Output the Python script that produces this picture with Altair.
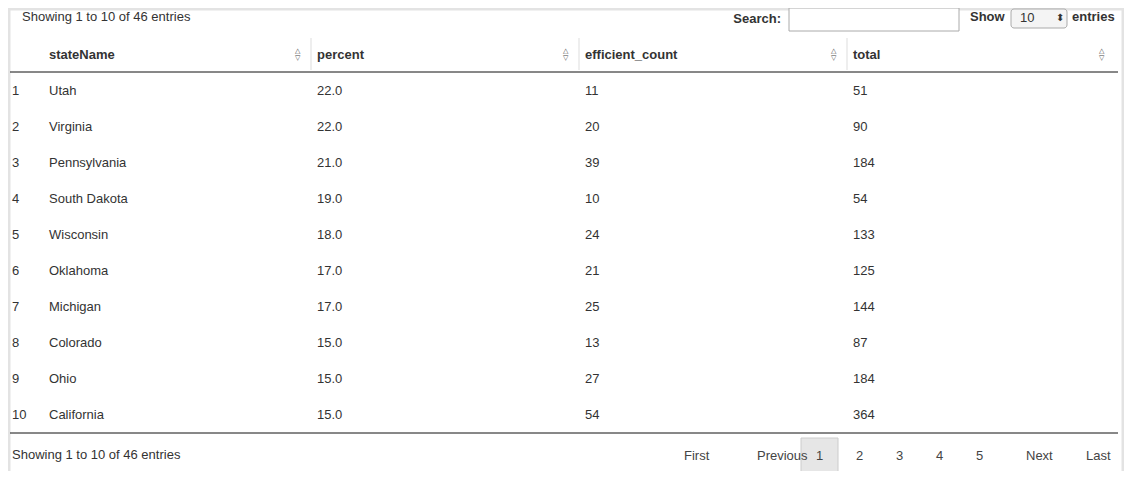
import altair as alt
import pandas as pd

columns = ["stateName", "percent", "efficient_count", "total"]
states = ["Utah", "Virginia", "Pennsylvania", "South Dakota", "Wisconsin",
          "Oklahoma", "Michigan", "Colorado", "Ohio", "California"]
percent = [22.0, 22.0, 21.0, 19.0, 18.0, 17.0, 17.0, 15.0, 15.0, 15.0]
efficient_count = [11, 20, 39, 10, 24, 21, 25, 13, 27, 54]
total = [51, 90, 184, 54, 133, 125, 144, 87, 184, 364]
pages = ["First", "Previous", "1", "2", "3", "4", "5", "Next", "Last"]
page_x = [676, 749, 808, 848, 888, 928, 968, 1018, 1078]

FONT = "Liberation Sans"
row_ids = [str(i) for i in range(1, 11)]
row_domain = ["h"] + row_ids
yscale = alt.Scale(type="point", domain=row_domain, range=[47, 407], padding=0)
xscale = alt.Scale(type="point", domain=columns, range=[41, 845], padding=0)

cells = []
for i in range(10):
    vals = [states[i], f"{percent[i]:.1f}", str(efficient_count[i]), str(total[i])]
    for c, v in zip(columns, vals):
        cells.append({"row": row_ids[i], "col": c, "val": v})
cells = pd.DataFrame(cells)
header = pd.DataFrame({"row": ["h"] * 4, "col": columns, "val": columns})
index = pd.DataFrame({"row": row_ids, "val": row_ids})

X = alt.X("col:N", scale=xscale, axis=None)
Y = alt.Y("row:N", scale=yscale, axis=None)

one = pd.DataFrame({"a": [0]})
frame = alt.Chart(one).mark_rect(
    fill="white", stroke="#e3e3e3", strokeWidth=3
).encode(x=alt.value(1), x2=alt.value(1115), y=alt.value(1), y2=alt.value(469))

body = alt.Chart(cells).mark_text(align="left", baseline="middle", font=FONT,
                                  fontSize=13, color="#333").encode(x=X, y=Y, text="val:N")
head = alt.Chart(header).mark_text(align="left", baseline="middle", font=FONT,
                                   fontSize=13, fontWeight="bold", color="#333").encode(x=X, y=Y, text="val:N")
up = alt.Chart(header).mark_text(align="center", baseline="middle", fontSize=7, dx=248, dy=-4,
                                 color="#444").encode(x=X, y=Y, text=alt.value("△"))
down = alt.Chart(header).mark_text(align="center", baseline="middle", fontSize=7, dx=248, dy=3,
                                   color="#444").encode(x=X, y=Y, text=alt.value("▽"))
idx = alt.Chart(index).mark_text(align="left", baseline="middle", font=FONT,
                                 fontSize=13, color="#333").encode(x=alt.value(4), y=Y, text="val:N")

line1 = alt.Chart(one).mark_rule(color="#111", strokeWidth=1).encode(
    x=alt.value(2), x2=alt.value(1110), y=alt.value(64))
line2 = alt.Chart(one).mark_rule(color="#111", strokeWidth=1).encode(
    x=alt.value(2), x2=alt.value(1110), y=alt.value(425))
seps = [alt.Chart(one).mark_rule(color="#ddd").encode(
    x=alt.value(v), y=alt.value(30), y2=alt.value(62)) for v in (303, 571, 839)]

search_box = alt.Chart(one).mark_rect(fill="white", stroke="#aaa").encode(
    x=alt.value(781), x2=alt.value(951), y=alt.value(0), y2=alt.value(23))
sel_box = alt.Chart(one).mark_rect(fill="#f4f4f4", stroke="#aaa", cornerRadius=3).encode(
    x=alt.value(1003), x2=alt.value(1059), y=alt.value(1), y2=alt.value(20))
page_box = alt.Chart(one).mark_rect(fill="#e6e6e6", stroke="#ccc").encode(
    x=alt.value(793), x2=alt.value(830), y=alt.value(430), y2=alt.value(465))

def label(t, x, y, align="left", bold=False, size=13):
    return alt.Chart(one).mark_text(align=align, baseline="middle", font=FONT, fontSize=size,
                                    fontWeight="bold" if bold else "normal", color="#333").encode(
        x=alt.value(x), y=alt.value(y), text=alt.value(t))

top = [label("Showing 1 to 10 of 46 entries", 14, 9), label("Search:", 773, 11, "right", True),
       label("Show", 962, 9, bold=True), label("10", 1012, 10),
       label("⬍", 1052, 10, "center", size=10), label("entries", 1064, 9, bold=True),
       label("Showing 1 to 10 of 46 entries", 4, 447)]
pag = alt.Chart(pd.DataFrame({"t": pages, "px": page_x})).mark_text(
    align="left", baseline="middle", font=FONT, fontSize=13, color="#444").encode(
    x=alt.X("px:Q", scale=None), y=alt.value(448), text="t:N")

chart = alt.layer(frame, line1, line2, *seps, search_box, sel_box, page_box,
                  body, head, up, down, idx, *top, pag).resolve_scale(
    x="independent", y="independent"
).properties(
    width=1116, height=463, padding=0, autosize=alt.AutoSizeParams(type="none")
).configure_view(stroke=None)

chart.save("out.html", embed_options={"renderer": "svg", "actions": False})
